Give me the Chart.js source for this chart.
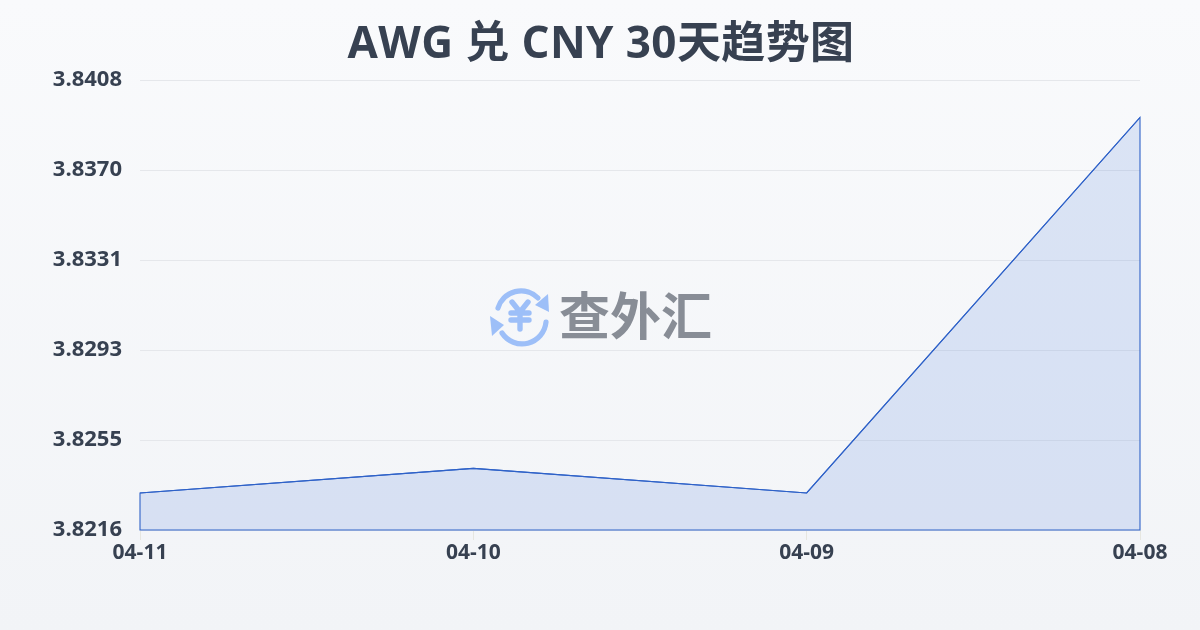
<!DOCTYPE html>
<html><head><meta charset="utf-8">
<script src="https://cdn.jsdelivr.net/npm/chart.js@4"></script>
<style>
html,body{margin:0;padding:0;width:1200px;height:630px;overflow:hidden}
body{background:linear-gradient(180deg,#f9fafc 0%,#f2f4f7 100%);position:relative}
#w{position:absolute;left:0;top:0;width:1200px;height:630px}
#logo{position:absolute;left:485px;top:280px;width:70px;height:70px}
#wm{position:absolute;left:559px;top:280px;font:700 51px "Noto Sans CJK SC";color:#888d96;line-height:66px;white-space:nowrap}
</style></head><body>
<div id="w"><canvas id="c" width="1200" height="630"></canvas></div>
<svg id="logo" viewBox="0 0 70 70" fill="none">
<path d="M13 28A24 24 0 0 1 53 18" stroke="#9dbff8" stroke-width="5.2" stroke-linecap="round"/>
<path d="M64 32L50 25L63 14Z" fill="#9dbff8"/>
<path d="M61 42A24 24 0 0 1 17 53" stroke="#9dbff8" stroke-width="5.2" stroke-linecap="round"/>
<path d="M5 36L19 45L7 56Z" fill="#9dbff8"/>
<path d="M27 22L35 32L43 22M26 33H44M26 40H44M35 32V49" stroke="#9dbff8" stroke-width="5.4" stroke-linecap="round" stroke-linejoin="round"/>
</svg>
<div id="wm">查外汇</div>
<script>
const titleText='AWG 兑 CNY 30天趋势图';
const categories=['04-11','04-10','04-09','04-08'];
const rates=[3.82318,3.82423,3.82318,3.8392];
const yTicks=[3.8216,3.82544,3.82928,3.83312,3.83696,3.8408];
const yLabels=['3.8216','3.8255','3.8293','3.8331','3.8370','3.8408'];
Chart.defaults.font.family='"Open Sans","Noto Sans CJK SC",sans-serif';
new Chart(document.getElementById('c'),{
type:'line',
data:{labels:categories,datasets:[{data:rates,borderColor:'#2f62c8',borderWidth:1.1,backgroundColor:'rgba(66,120,220,0.16)',fill:'start',pointRadius:0,tension:0}]},
options:{responsive:false,animation:false,
layout:{padding:{top:80,right:60,left:0,bottom:0}},
plugins:{legend:{display:false},tooltip:{enabled:false},title:{display:false}},
scales:{
x:{offset:false,afterFit(s){s.height=100;},
grid:{display:true,drawOnChartArea:false,drawTicks:true,tickLength:10,color:'#e6e6e0'},border:{display:false},
ticks:{color:'#374151',font:{size:21,weight:'700'},maxRotation:0,padding:0}},
y:{min:3.8216,max:3.8408,afterFit(s){s.width=140;},afterBuildTicks(a){a.ticks=yTicks.map(v=>({value:v}));},
grid:{color:'#e5e7eb',lineWidth:1,drawTicks:false},border:{display:false},
ticks:{color:'#374151',font:{size:22,weight:'700'},padding:18,callback(v,i){return yLabels[i];}}}
}
},
plugins:[{id:'outline',afterDatasetsDraw(ch){
const x=ch.ctx,pts=ch.getDatasetMeta(0).data,b=ch.scales.y.bottom;
x.save();x.strokeStyle='#2f62c8';x.lineWidth=1.1;x.beginPath();
x.moveTo(pts[0].x,b);pts.forEach(p=>x.lineTo(p.x,p.y));x.lineTo(pts[pts.length-1].x,b);x.closePath();x.stroke();x.restore();
},afterDraw(ch){const x=ch.ctx;x.save();x.fillStyle='#374151';x.font='700 44px "Open Sans","Noto Sans CJK SC"';x.letterSpacing='0.4px';x.textAlign='center';x.textBaseline='middle';x.fillText(titleText,601,45);x.restore();}}]
});
</script>
</body></html>
